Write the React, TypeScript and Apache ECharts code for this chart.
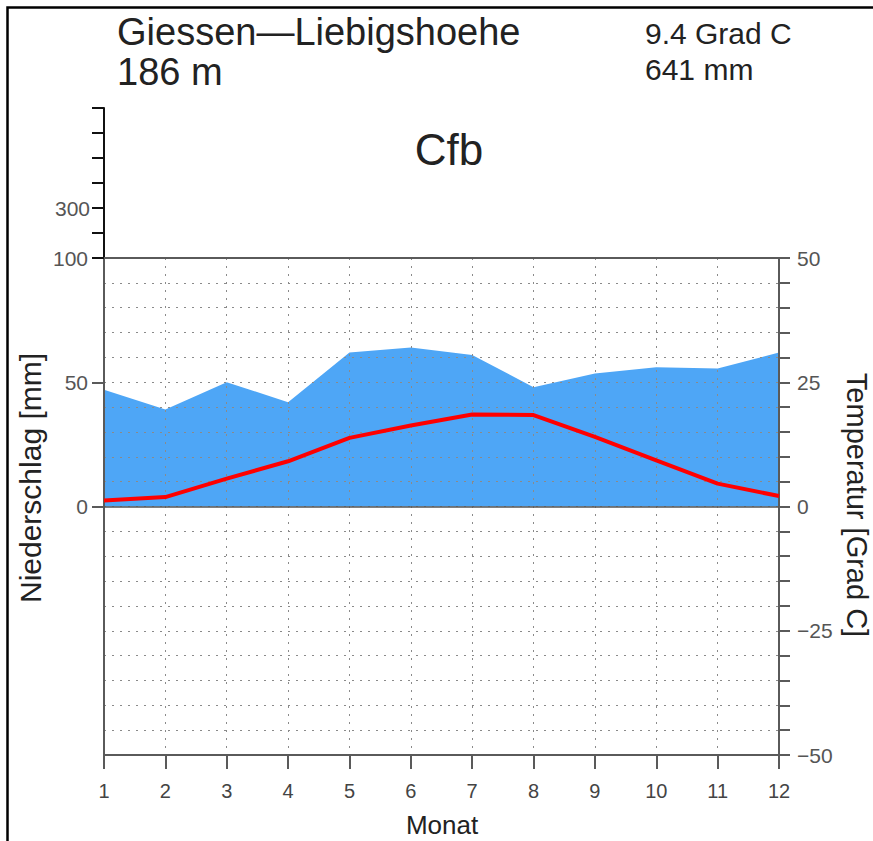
import React, { useEffect, useRef } from "react";
import * as echarts from "echarts";

const months = [1, 2, 3, 4, 5, 6, 7, 8, 9, 10, 11, 12];
const precipitation = [47, 39, 50, 42, 62, 64, 61, 48, 53.5, 56, 55.5, 62];
const temperature = [1.2, 1.9, 5.6, 9.1, 13.8, 16.3, 18.5, 18.4, 14.0, 9.3, 4.6, 2.1];
const precipLabels = [0, 50, 100];
const precipTicks = [0, 50, 100];
const tempLabels = [-50, -25, 0, 25, 50];
const upperLabels = [300];

const stationName = "Giessen\u2014Liebigshoehe";
const altitude = "186 m";
const meanTemp = "9.4 Grad C";
const totalPrecip = "641 mm";
const climateClass = "Cfb";

const FONT = "Liberation Sans, Arial, sans-serif";

export default function App() {
  const ref = useRef<HTMLDivElement>(null);
  useEffect(() => {
    if (!ref.current) return;
    const chart = echarts.init(ref.current, undefined, { renderer: "svg" });
    const gridLeft = 104;
    const gridTop = 258;
    const gridW = 675;
    const gridH = 497;
    const dotted = { color: "#8a8a8a", width: 1, type: [2, 6] as number[] };
    const axisGray = "#5a5a5a";
    chart.setOption({
      animation: false,
      backgroundColor: "#ffffff",
      grid: [
        { left: gridLeft, top: gridTop, width: gridW, height: gridH },
        { left: gridLeft, top: 108, width: gridW, height: 150 },
      ],
      xAxis: [
        {
          type: "value",
          gridIndex: 0,
          min: 1,
          max: 12,
          interval: 1,
          position: "bottom",
          z: 5,
          axisLine: { show: true, onZero: false, lineStyle: { color: axisGray, width: 2 } },
          axisTick: { show: true, length: 14, inside: false, lineStyle: { color: axisGray, width: 2 } },
          axisLabel: { margin: 26, fontSize: 20, color: "#444", fontFamily: FONT },
          splitLine: { show: true, lineStyle: dotted },
        },
        {
          type: "value",
          gridIndex: 0,
          min: 1,
          max: 12,
          interval: 1,
          position: "top",
          z: 5,
          axisLine: { show: true, onZero: false, lineStyle: { color: axisGray, width: 2 } },
          axisTick: { show: false },
          axisLabel: { show: false },
          splitLine: { show: false },
        },
        {
          type: "value",
          gridIndex: 1,
          min: 1,
          max: 12,
          show: false,
        },
      ],
      yAxis: [
        {
          type: "value",
          gridIndex: 0,
          min: -100,
          max: 100,
          interval: 50,
          position: "left",
          z: 5,
          axisLine: { show: true, onZero: false, lineStyle: { color: axisGray, width: 2 } },
          axisTick: { show: true, length: 12, customValues: precipTicks, lineStyle: { color: axisGray, width: 2 } },
          axisLabel: {
            customValues: precipLabels,
            margin: 16,
            fontSize: 21,
            color: "#555",
            fontFamily: FONT,
            formatter: (v: number) => (v >= 0 ? String(v) : ""),
          },
          splitLine: { show: false },
        },
        {
          type: "value",
          gridIndex: 0,
          min: -50,
          max: 50,
          interval: 5,
          position: "right",
          z: 5,
          axisLine: { show: true, onZero: false, lineStyle: { color: axisGray, width: 2 } },
          axisTick: { show: true, length: 11, lineStyle: { color: axisGray, width: 2 } },
          axisLabel: {
            customValues: tempLabels,
            margin: 18,
            fontSize: 21,
            color: "#555",
            fontFamily: FONT,
            formatter: (v: number) => (v < 0 ? "\u2212" + Math.abs(v) : String(v)),
          },
          splitLine: { show: true, lineStyle: dotted },
        },
        {
          type: "value",
          gridIndex: 1,
          min: 100,
          max: 700,
          interval: 100,
          position: "left",
          z: 5,
          axisLine: { show: true, onZero: false, lineStyle: { color: "#111", width: 2 } },
          axisTick: { show: true, length: 12, lineStyle: { color: "#111", width: 2 } },
          axisLabel: {
            customValues: upperLabels,
            margin: 14,
            fontSize: 21,
            color: "#555",
            fontFamily: FONT,
          },
          splitLine: { show: false },
        },
      ],
      series: [
        {
          name: "Niederschlag",
          type: "line",
          xAxisIndex: 0,
          yAxisIndex: 0,
          data: months.map((m, i) => [m, precipitation[i]]),
          symbol: "none",
          z: 2,
          lineStyle: { width: 0, color: "#4ea6f6" },
          itemStyle: { color: "#4ea6f6" },
          areaStyle: { color: "#4ea6f6", opacity: 1, origin: 0 },
          markLine: {
            silent: true,
            symbol: "none",
            label: { show: false },
            lineStyle: { color: "#555", width: 1.5, type: "solid" },
            data: [{ yAxis: 0 }],
            z: 6,
          },
        },
        {
          name: "Temperatur",
          type: "line",
          xAxisIndex: 0,
          yAxisIndex: 1,
          data: months.map((m, i) => [m, temperature[i]]),
          symbol: "none",
          z: 10,
          lineStyle: { width: 4, color: "#ff0000" },
          itemStyle: { color: "#ff0000" },
        },
      ],
      graphic: [
        {
          type: "rect",
          shape: { x: 7.5, y: 7.5, width: 900, height: 900 },
          style: { fill: "none", stroke: "#000", lineWidth: 2.5 },
          silent: true,
        },
        {
          type: "text",
          x: 117,
          y: 32,
          style: { text: stationName, font: `38px ${FONT}`, fill: "#222", align: "left", verticalAlign: "middle" },
        },
        {
          type: "text",
          x: 117,
          y: 72,
          style: { text: altitude, font: `38px ${FONT}`, fill: "#222", align: "left", verticalAlign: "middle" },
        },
        {
          type: "text",
          x: 645,
          y: 33,
          style: { text: meanTemp, font: `30px ${FONT}`, fill: "#222", align: "left", verticalAlign: "middle" },
        },
        {
          type: "text",
          x: 645,
          y: 69,
          style: { text: totalPrecip, font: `30px ${FONT}`, fill: "#222", align: "left", verticalAlign: "middle" },
        },
        {
          type: "text",
          x: 449,
          y: 149,
          style: { text: climateClass, font: `44px ${FONT}`, fill: "#222", align: "center", verticalAlign: "middle" },
        },
        {
          type: "text",
          x: 30,
          y: 478,
          rotation: Math.PI / 2,
          style: { text: "Niederschlag [mm]", font: `30px ${FONT}`, fill: "#222", align: "center", verticalAlign: "middle" },
        },
        {
          type: "text",
          x: 857,
          y: 505,
          rotation: -Math.PI / 2,
          style: { text: "Temperatur [Grad C]", font: `29px ${FONT}`, fill: "#222", align: "center", verticalAlign: "middle" },
        },
        {
          type: "text",
          x: 442,
          y: 825,
          style: { text: "Monat", font: `26px ${FONT}`, fill: "#222", align: "center", verticalAlign: "middle" },
        },
      ],
    });
    return () => chart.dispose();
  }, []);
  return (
    <div
      ref={ref}
      style={{ position: "absolute", left: 0, top: 0, width: 873, height: 841 }}
    />
  );
}
